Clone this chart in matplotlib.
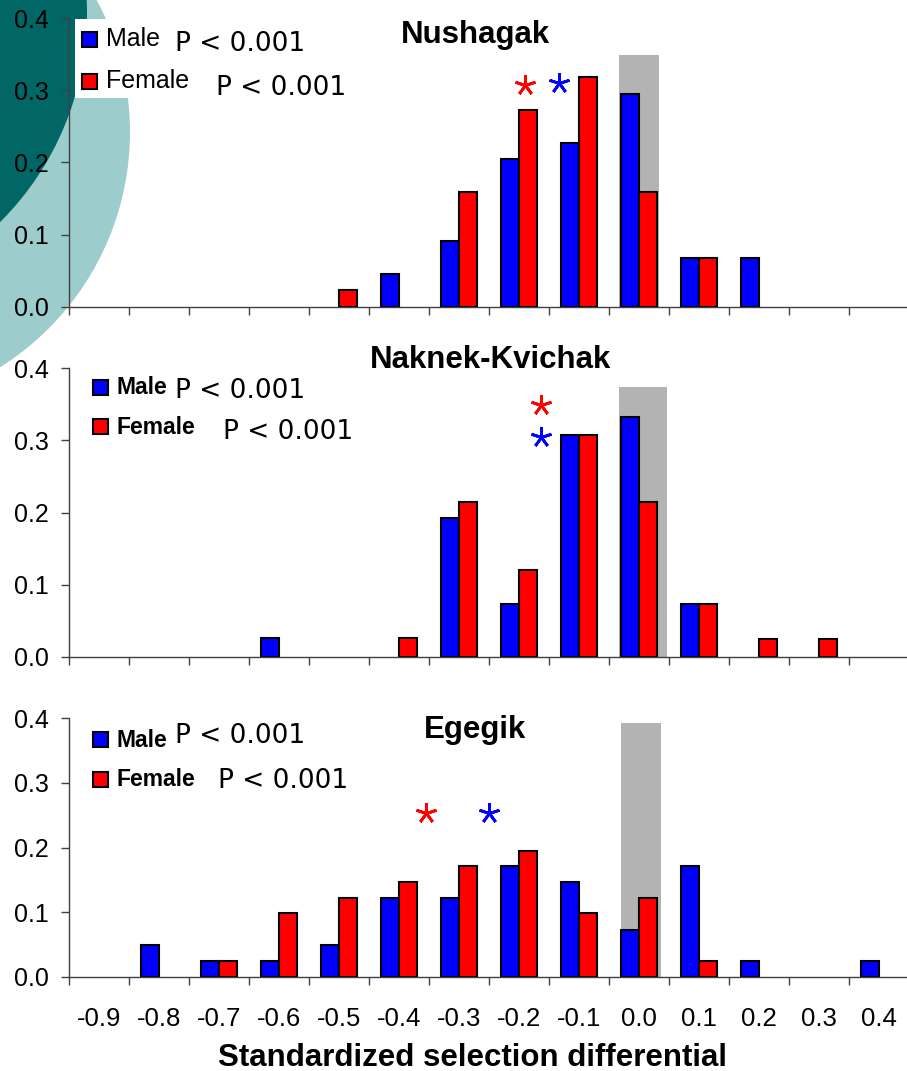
import matplotlib
matplotlib.use("Agg")
import matplotlib.pyplot as plt
import numpy as np
from matplotlib.patches import Circle, Rectangle

plt.rcParams['font.family'] = ['Liberation Sans', 'DejaVu Sans']

W, H = 907, 1071

# category labels (standardized selection differential bins)
categories = ["-0.9", "-0.8", "-0.7", "-0.6", "-0.5", "-0.4", "-0.3",
              "-0.2", "-0.1", "0.0", "0.1", "0.2", "0.3", "0.4"]

# proportions per bin
nushagak_male = [0, 0, 0, 0, 0, 0.045, 0.091, 0.205, 0.227, 0.295, 0.068, 0.068, 0, 0]
nushagak_female = [0, 0, 0, 0, 0.023, 0, 0.159, 0.273, 0.318, 0.159, 0.068, 0, 0, 0]
naknek_male = [0, 0, 0, 0.026, 0, 0, 0.192, 0.073, 0.308, 0.333, 0.073, 0, 0, 0]
naknek_female = [0, 0, 0, 0, 0, 0.026, 0.214, 0.120, 0.308, 0.214, 0.073, 0.025, 0.025, 0]
egegik_male = [0, 0.049, 0.024, 0.024, 0.049, 0.122, 0.122, 0.171, 0.146, 0.073, 0.171, 0.024, 0, 0.024]
egegik_female = [0, 0, 0.024, 0.098, 0.122, 0.146, 0.171, 0.195, 0.098, 0.122, 0.024, 0, 0, 0]

# grey band (left, right, top) in selection-differential units
nushagak_band = (-0.033, 0.033, 0.349)
naknek_band = (-0.033, 0.047, 0.374)
egegik_band = (-0.030, 0.037, 0.393)

# asterisks: (x, y) for female / male
nushagak_stars = [(-0.19, 0.307), (-0.133, 0.310)]
naknek_stars = [(-0.163, 0.349), (-0.163, 0.305)]
egegik_stars = [(-0.355, 0.253), (-0.25, 0.253)]

panel_names = ["Nushagak", "Naknek-Kvichak", "Egegik"]
p_text = "P < 0.001"


def to_idx(v):
    return (v + 0.9) / 0.1


fig = plt.figure(figsize=(W / 100, H / 100), dpi=100)

# background decoration
bg = fig.add_axes([0, 0, 1, 1], zorder=0)
bg.set_xlim(0, W)
bg.set_ylim(H, 0)
bg.axis('off')
bg.add_patch(Circle((-148, 132), 278, color='#9ccccc', lw=0))
bg.add_patch(Circle((-208, 13), 295, color='#006666', lw=0))
bg.add_patch(Rectangle((75, 19), 120, 79, color='white', lw=0))

# axes pixel extents: (top, bottom)
panels = [(18.3, 306.7), (368.3, 656.7), (718.3, 976.7)]
males = [nushagak_male, naknek_male, egegik_male]
females = [nushagak_female, naknek_female, egegik_female]
bands = [nushagak_band, naknek_band, egegik_band]
stars = [nushagak_stars, naknek_stars, egegik_stars]

x = np.arange(len(categories))
bw = 0.305
tick_px = 8 * 72 / 100

for k, (top, bot) in enumerate(panels):
    ax = fig.add_axes([69 / W, 1 - bot / H, 840 / W, (bot - top) / H], zorder=1)
    ax.set_facecolor('none')
    ax.set_xlim(-0.5, 13.5)
    ax.set_ylim(0, 0.4)

    bl, br, bt = bands[k]
    ax.bar((to_idx(bl) + to_idx(br)) / 2, bt, width=to_idx(br) - to_idx(bl),
           color='#b3b3b3', lw=0, zorder=1)

    m = np.array(males[k])
    f = np.array(females[k])
    ax.bar(x[m > 0] - bw / 2, m[m > 0], width=bw, color='#0000ff',
           edgecolor='black', lw=1.5, zorder=2)
    ax.bar(x[f > 0] + bw / 2, f[f > 0], width=bw, color='#ff0000',
           edgecolor='black', lw=1.5, zorder=2)

    (fx, fy), (mx, my) = stars[k]
    ax.plot(to_idx(fx), fy, marker=(5, 2, 0), ms=15, mew=2.0, color='#ff0000',
            ls='none', zorder=3)
    ax.plot(to_idx(mx), my, marker=(5, 2, 0), ms=15, mew=2.0, color='#0000ff',
            ls='none', zorder=3)

    for s in ['top', 'right']:
        ax.spines[s].set_visible(False)
    for s in ['left', 'bottom']:
        ax.spines[s].set_color('#404040')
        ax.spines[s].set_linewidth(1.0)

    ax.set_yticks([0, 0.1, 0.2, 0.3, 0.4])
    ax.set_yticklabels(["0.0", "0.1", "0.2", "0.3", "0.4"], fontsize=18)
    ax.tick_params(axis='y', direction='out', length=tick_px, width=1.0,
                   color='#404040', pad=9)

    ax.set_xticks(np.arange(-0.5, 13.6, 1.0))
    ax.set_xticklabels([])
    ax.tick_params(axis='x', which='major', direction='out', length=tick_px,
                   width=1.0, color='#404040')
    if k == 2:
        ax.set_xticks(x, minor=True)
        ax.set_xticklabels(categories, minor=True, fontsize=18.5)
        ax.tick_params(axis='x', which='minor', length=0, pad=22)
    else:
        ax.set_xticks([], minor=True)

# overlay: titles, legends, axis label
ov = fig.add_axes([0, 0, 1, 1], zorder=4)
ov.set_xlim(0, W)
ov.set_ylim(H, 0)
ov.axis('off')

title_pos = [(475.5, 43.3), (490.5, 368.3), (475.5, 738.3)]
for name, (tx, ty) in zip(panel_names, title_pos):
    ov.text(tx, ty, name, ha='center', va='baseline', fontsize=22.5,
            fontweight='bold')

# legend squares: (x, y_top_blue, y_top_red, size)
legend_sq = [(82.3, 32.3, 74.3, 15), (93.3, 379.8, 419.3, 15), (93.3, 731.9, 771.7, 15)]
# legend texts: (label_x, male_base, female_base, p1_x, p1_base, p2_x, p2_base)
legend_txt = [(106, 46, 88.3, 175, 51, 216, 95),
              (116, 394.3, 434, 175, 397.7, 223, 439.3),
              (116, 746.7, 786, 175, 743.3, 218, 788.3)]

for k in range(3):
    sx, yb, yr, sz = legend_sq[k]
    ov.add_patch(Rectangle((sx, yb), sz, sz, facecolor='#0000ff', edgecolor='black', lw=1.5))
    ov.add_patch(Rectangle((sx, yr), sz, sz, facecolor='#ff0000', edgecolor='black', lw=1.5))
    lx, mb, fb, p1x, p1b, p2x, p2b = legend_txt[k]
    if k == 0:
        ov.text(lx, mb, "Male", va='baseline', fontsize=18)
        ov.text(lx, fb, "Female", va='baseline', fontsize=18)
    else:
        ov.text(lx, mb, "Male", va='baseline', fontsize=16.5, fontweight='bold')
        ov.text(lx, fb, "Female", va='baseline', fontsize=16.5, fontweight='bold')
    ov.text(p1x, p1b, p_text, va='baseline', fontsize=19, family='DejaVu Sans')
    ov.text(p2x, p2b, p_text, va='baseline', fontsize=19, family='DejaVu Sans')

ov.text(472, 1066, "Standardized selection differential", ha='center',
        va='baseline', fontsize=22.5, fontweight='bold')

fig.savefig('out.png', dpi=100)
